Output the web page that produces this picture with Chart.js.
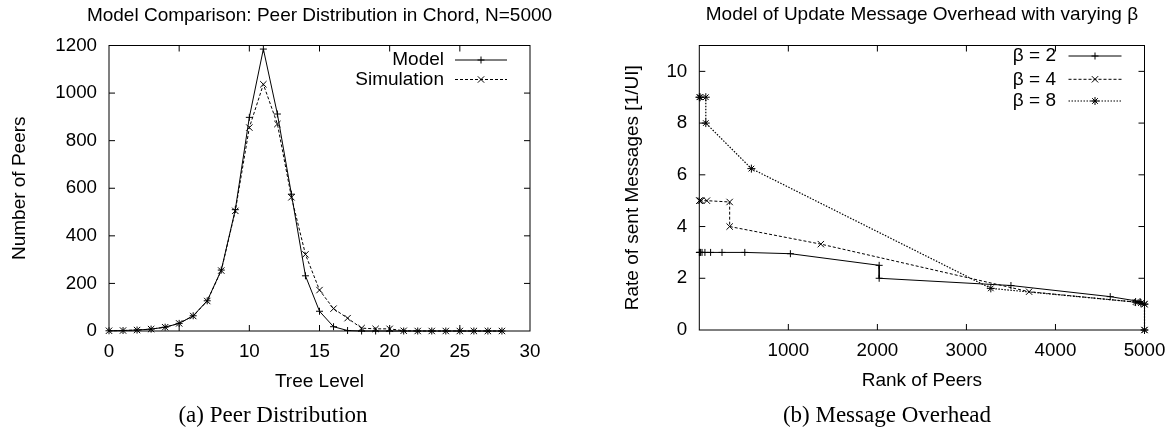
<!DOCTYPE html>
<html><head><meta charset="utf-8">
<script src="https://cdn.jsdelivr.net/npm/chart.js@4"></script>
<style>
html,body{margin:0;padding:0;background:#fff;}
body{width:1176px;height:432px;position:relative;overflow:hidden;}
canvas{position:absolute;top:0;}
#c1{left:0;} #c2{left:580px;}
.cap{position:absolute;font-family:"Liberation Serif","Times New Roman",serif;font-size:23px;color:#000;text-align:center;width:260px;top:401px;line-height:28px;white-space:nowrap;}
</style></head><body>
<canvas id="c1" width="580" height="432"></canvas>
<canvas id="c2" width="596" height="432"></canvas>
<div class="cap" style="left:143px">(a) Peer Distribution</div>
<div class="cap" style="left:757px">(b) Message Overhead</div>
<script>
// ---------- data: chart (a) ----------
const treeLevels = [0,1,2,3,4,5,6,7,8,9,10,11,12,13,14,15,16,17,18,19,20,21,22,23,24,25,26,27,28];
const modelPeers = [1,2,4,8,16,32,64,127,256,510,898,1185,912,575,232,83,18,2,0,0,0,0,0,0,0,0,0,0,0];
const simPeers   = [1,2,4,8,16,32,63,126,254,505,855,1037,870,562,322,172,94,54,12,9,9,1,0,0,0,0,0,0,0];
const levelTicks = [0,5,10,15,20,25,30];
const peerTicks  = [0,200,400,600,800,1000,1200];

// ---------- data: chart (b) ----------
const rankB2 = [1,3,7,15,31,63,127,255,511,1023,2020,2020,3500,4615,4950,5000,5000];
const rateB2 = [3,3,3,3,3,3,3,3,3,2.95,2.5,2,1.72,1.29,1.1,1.0,0];
const rankB4 = [1,5,21,85,341,341,1365,3704,4920,5000,5000];
const rateB4 = [5,5,5,5,4.95,4,3.32,1.48,1.07,1.0,0];
const rankB8 = [1,9,73,73,585,3274,4900,4960,5000,5000];
const rateB8 = [9,9,9,8,6.24,1.61,1.08,1.04,1.0,0];
const rankTicks = [0,1000,2000,3000,4000,5000];
const rateTicks = [0,2,4,6,8,10];

const FONT = '"Liberation Sans", Arial, Helvetica, sans-serif';

function drawMarker(ctx, style, x, y, r) {
  ctx.beginPath();
  if (style === 'cross' || style === 'star') {
    ctx.moveTo(x - r, y); ctx.lineTo(x + r, y);
    ctx.moveTo(x, y - r); ctx.lineTo(x, y + r);
  }
  if (style === 'crossRot' || style === 'star') {
    const d = r * Math.SQRT1_2;
    ctx.moveTo(x - d, y - d); ctx.lineTo(x + d, y + d);
    ctx.moveTo(x - d, y + d); ctx.lineTo(x + d, y - d);
  }
  ctx.stroke();
}

const decor = {
  id: 'decor',
  afterDraw(chart) {
    const opts = chart.options.plugins.decor;
    const {ctx, chartArea: a, scales} = chart;
    ctx.save();
    ctx.strokeStyle = '#000';
    ctx.lineWidth = 1;
    ctx.setLineDash([]);
    ctx.strokeRect(a.left, a.top, a.right - a.left, a.bottom - a.top);
    const tl = 6;
    ctx.beginPath();
    scales.x.ticks.forEach(t => {
      const p = scales.x.getPixelForValue(t.value);
      if (p <= a.left + 1 || p >= a.right - 1) return;
      ctx.moveTo(p, a.bottom); ctx.lineTo(p, a.bottom - tl);
      ctx.moveTo(p, a.top); ctx.lineTo(p, a.top + tl);
    });
    scales.y.ticks.forEach(t => {
      const p = scales.y.getPixelForValue(t.value);
      if (p <= a.top + 1 || p >= a.bottom - 1) return;
      ctx.moveTo(a.left, p); ctx.lineTo(a.left + tl, p);
      ctx.moveTo(a.right, p); ctx.lineTo(a.right - tl, p);
    });
    ctx.stroke();
    // title
    ctx.fillStyle = '#000';
    ctx.font = '19px ' + FONT;
    ctx.textAlign = 'center';
    ctx.textBaseline = 'middle';
    ctx.fillText(opts.title, (a.left + a.right) / 2, a.top + opts.titleDy);
    // legend
    ctx.textAlign = 'right';
    chart.data.datasets.forEach((ds, i) => {
      const y = a.top + opts.rows[i];
      ctx.fillText(ds.label, a.right - opts.textRight, y);
      ctx.lineWidth = ds.borderWidth;
      ctx.setLineDash(ds.borderDash || []);
      ctx.beginPath();
      ctx.moveTo(a.right - opts.line0, y);
      ctx.lineTo(a.right - opts.line1, y);
      ctx.stroke();
      ctx.setLineDash([]);
      ctx.lineWidth = 1;
      drawMarker(ctx, ds.pointStyle, a.right - (opts.line0 + opts.line1) / 2, y, ds.pointRadius);
    });
    ctx.restore();
  }
};

function axis(min, max, tickVals, fitKey, fitVal, title, titlePad, tickPad, cb) {
  return {
    type: 'linear', min, max,
    afterBuildTicks: s => { s.ticks = tickVals.map(v => ({value: v})); },
    afterFit: s => { s[fitKey] = fitVal; },
    grid: {display: false, drawTicks: false},
    border: {display: false},
    ticks: {padding: tickPad, color: '#000', font: {family: FONT, size: 18.75}, callback: cb || (v => String(v))},
    title: {display: true, text: title, color: '#000', font: {family: FONT, size: 19}, padding: titlePad}
  };
}

function ds(label, xs, ys, style, r, dash, w) {
  return {
    label, data: xs.map((x, i) => ({x, y: ys[i]})),
    borderColor: '#000', borderWidth: w || 1, borderDash: dash,
    pointStyle: style, pointRadius: r, pointBorderColor: '#000', pointBorderWidth: 1,
    pointBackgroundColor: 'rgba(0,0,0,0)', pointHoverRadius: r,
    fill: false, tension: 0, clip: false
  };
}

new Chart(document.getElementById('c1'), {
  type: 'line',
  data: {datasets: [
    ds('Model', treeLevels, modelPeers, 'cross', 3.5, []),
    ds('Simulation', treeLevels, simPeers, 'crossRot', 4.5, [3, 2])
  ]},
  options: {
    responsive: false, animation: false, devicePixelRatio: 1, events: [],
    layout: {padding: {left: 0, top: 45.5, right: 50, bottom: 39}},
    plugins: {
      legend: {display: false}, tooltip: {enabled: false},
      decor: {title: 'Model Comparison: Peer Distribution in Chord, N=5000', titleDy: -29.5,
              rows: [14.5, 34], textRight: 86, line0: 75, line1: 23}
    },
    scales: {
      x: axis(0, 30, levelTicks, 'height', 62, 'Tree Level', {top: 0, bottom: 0}, 10),
      y: axis(0, 1200, peerTicks, 'width', 109, 'Number of Peers', {top: 8, bottom: 0}, 12)
    }
  },
  plugins: [decor]
});

new Chart(document.getElementById('c2'), {
  type: 'line',
  data: {datasets: [
    ds('β = 2', rankB2, rateB2, 'cross', 3.5, []),
    ds('β = 4', rankB4, rateB4, 'crossRot', 4.5, [3, 2]),
    ds('β = 8', rankB8, rateB8, 'star', 4, [1.5, 1.5], 1.2)
  ]},
  options: {
    responsive: false, animation: false, devicePixelRatio: 1, events: [],
    layout: {padding: {left: 0, top: 45.5, right: 31.5, bottom: 40}},
    plugins: {
      legend: {display: false}, tooltip: {enabled: false},
      decor: {title: 'Model of Update Message Overhead with varying β', titleDy: -30.5,
              rows: [10.5, 33.8, 55.5], textRight: 88.5, line0: 76, line1: 23}
    },
    scales: {
      x: axis(0, 5000, rankTicks, 'height', 62, 'Rank of Peers', {top: 0, bottom: 0}, 10, v => v === 0 ? '' : String(v)),
      y: axis(0, 11, rateTicks, 'width', 119.3, 'Rate of sent Messages [1/UI]', {top: 41.6, bottom: 0}, 12)
    }
  },
  plugins: [decor]
});
</script>
</body></html>
